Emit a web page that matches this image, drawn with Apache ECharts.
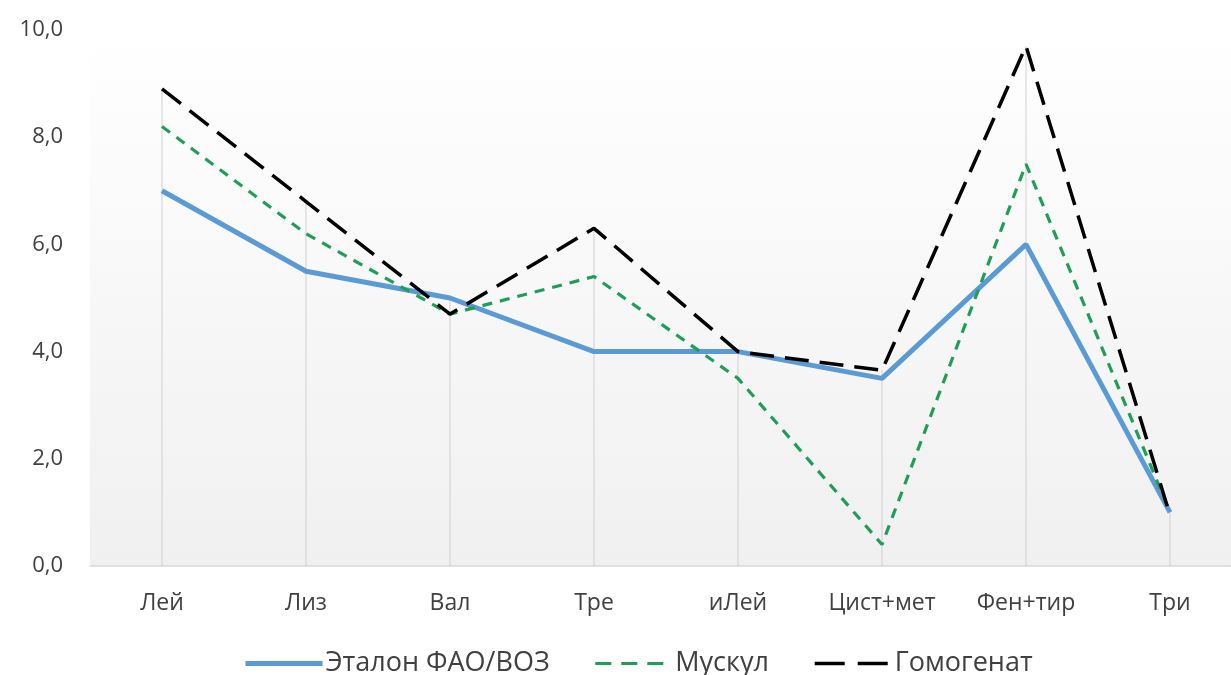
<!DOCTYPE html>
<html>
<head>
<meta charset="utf-8">
<script src="https://cdn.jsdelivr.net/npm/echarts@6/dist/echarts.min.js"></script>
<style>
  html, body { margin: 0; padding: 0; background: #ffffff; }
  #chart { width: 1231px; height: 675px; }
</style>
</head>
<body>
<div id="chart"></div>
<script>
// Amino acid score profile: reference pattern vs. two samples
const categories = ['Лей', 'Лиз', 'Вал', 'Тре', 'иЛей', 'Цист+мет', 'Фен+тир', 'Три'];
const etalon     = [7.0, 5.5, 5.0, 4.0, 4.0, 3.5, 6.0, 1.0];
const muskul     = [8.2, 6.2, 4.7, 5.4, 3.5, 0.4, 7.5, 1.0];
const gomogenat  = [8.9, 6.8, 4.7, 6.3, 4.0, 3.65, 9.7, 0.95];
const seriesNames = ['Эталон ФАО/ВОЗ', 'Мускул', 'Гомогенат'];

// Drop lines run from the highest point in each category down to the axis
const dropTops = categories.map((_, i) => Math.max(etalon[i], muskul[i], gomogenat[i]));

const chart = echarts.init(document.getElementById('chart'), null, { renderer: 'canvas' });
const font = '"Open Sans", "Noto Sans", sans-serif';

const styles = [
  { color: '#5b9bd5', width: 5, type: 'solid' },
  { color: '#1f9e55', width: 3.2, type: [10, 8] },
  { color: '#000000', width: 3.5, type: [24, 11] }
];
const legendDash = ['solid', [16, 10], [30, 13]];

chart.setOption({
  animation: false,
  backgroundColor: '#ffffff',
  grid: {
    left: 90, width: 1152, top: 30, bottom: 109,
    outerBoundsMode: 'none',
    containLabel: false,
    show: true,
    borderWidth: 0,
    backgroundColor: new echarts.graphic.LinearGradient(0, 0, 0, 1, [
      { offset: 0, color: '#ffffff' },
      { offset: 1, color: '#f0f0f0' }
    ])
  },
  legend: {
    top: 645,
    left: 238,
    data: seriesNames.map((n, i) => ({
      name: n,
      lineStyle: { width: styles[i].width, type: legendDash[i], color: styles[i].color }
    })),
    itemWidth: 77,
    itemHeight: 14,
    itemGap: 44,
    itemStyle: { opacity: 0 },
    textStyle: { fontFamily: font, fontSize: 27, color: '#404040', padding: [0, 0, 0, -2] }
  },
  xAxis: {
    type: 'category',
    data: categories,
    boundaryGap: true,
    axisLine: { show: true, lineStyle: { color: '#d9d9d9', width: 1.5 } },
    axisTick: { show: false },
    axisLabel: { fontFamily: font, fontSize: 23, color: '#404040', margin: 26 },
    splitLine: { show: false }
  },
  yAxis: {
    type: 'value',
    min: 0, max: 10, interval: 2,
    axisLine: { show: false },
    axisTick: { show: false },
    splitLine: { show: false },
    axisLabel: {
      fontFamily: font, fontSize: 22, color: '#404040', margin: 27,
      formatter: v => v.toFixed(1).replace('.', ',')
    }
  },
  series: [
    {
      name: 'drop',
      type: 'bar',
      data: dropTops,
      barWidth: 1,
      itemStyle: { color: '#d0d0d0' },
      silent: true,
      z: 1
    },
    ...seriesNames.map((n, i) => ({
      name: n,
      type: 'line',
      data: [etalon, muskul, gomogenat][i],
      symbol: 'none',
      lineStyle: styles[i],
      itemStyle: { color: styles[i].color },
      z: 3 + i
    }))
  ]
});
</script>
</body>
</html>
